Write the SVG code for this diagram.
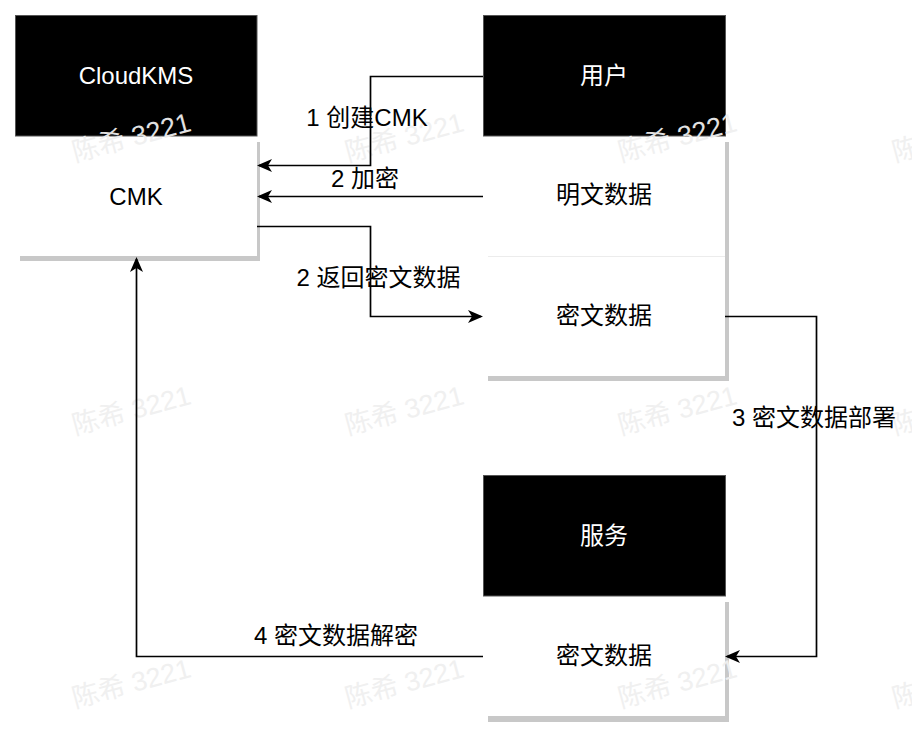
<svg xmlns="http://www.w3.org/2000/svg" width="912" height="740" viewBox="0 0 912 740">
<defs>
<style>
text{font-family:"Liberation Sans","Noto Sans CJK SC",sans-serif;font-size:24px;text-anchor:middle}
.hdr{fill:#000;stroke:#555;stroke-width:1}
.body{fill:#fff}
.shadow{fill:#c8c8c8}
.wt{fill:#fff}
.bt{fill:#000}
.edge{fill:none;stroke:#000;stroke-width:1.7}
.wm{fill:#f0f0f0;opacity:0.94;font-size:27px;text-anchor:start}
</style>
<marker id="arr" markerUnits="userSpaceOnUse" markerWidth="16" markerHeight="14" refX="13" refY="6.5" orient="auto">
<path d="M15,6.5 L0,0 L4,6.5 L0,13 Z" fill="#000"/>
</marker>
</defs>
<rect width="912" height="740" fill="#fff"/>
<g id="cloudkms">
<rect class="shadow" x="20" y="142" width="240" height="119"/>
<rect class="body" x="15" y="136" width="242" height="120"/>
<rect class="hdr" x="15.5" y="15.5" width="241.5" height="120.5"/>
<text class="wt" x="136" y="83.5">CloudKMS</text>
<text class="bt" x="136" y="205">CMK</text>
</g>
<g id="user">
<rect class="shadow" x="488" y="142" width="241" height="239"/>
<rect class="body" x="483" y="136" width="242" height="240"/>
<line x1="488" y1="256.5" x2="725" y2="256.5" stroke="#ececec" stroke-width="1"/>
<rect class="hdr" x="483.5" y="15.5" width="242" height="120.5"/>
<text class="wt" x="604" y="84">用户</text>
<text class="bt" x="604" y="203">明文数据</text>
<text class="bt" x="604" y="324">密文数据</text>
</g>
<g id="service">
<rect class="shadow" x="488" y="602" width="241" height="120"/>
<rect class="body" x="483" y="596" width="242" height="120"/>
<rect class="hdr" x="483.5" y="475.5" width="242" height="120.5"/>
<text class="wt" x="604" y="544">服务</text>
<text class="bt" x="604" y="664">密文数据</text>
</g>
<g id="watermarks">
<text class="wm" transform="translate(75,162) rotate(-15)">陈希 3221</text>
<text class="wm" transform="translate(348,162) rotate(-15)">陈希 3221</text>
<text class="wm" transform="translate(621,162) rotate(-15)">陈希 3221</text>
<text class="wm" transform="translate(895,162) rotate(-15)">陈希 3221</text>
<text class="wm" transform="translate(75,435) rotate(-15)">陈希 3221</text>
<text class="wm" transform="translate(348,435) rotate(-15)">陈希 3221</text>
<text class="wm" transform="translate(621,435) rotate(-15)">陈希 3221</text>
<text class="wm" transform="translate(895,435) rotate(-15)">陈希 3221</text>
<text class="wm" transform="translate(75,708) rotate(-15)">陈希 3221</text>
<text class="wm" transform="translate(348,708) rotate(-15)">陈希 3221</text>
<text class="wm" transform="translate(621,708) rotate(-15)">陈希 3221</text>
<text class="wm" transform="translate(895,708) rotate(-15)">陈希 3221</text>
</g>
<g id="connectors">
<path class="edge" d="M483,76.5 H370.5 V165.5 H259" marker-end="url(#arr)"/>
<path class="edge" d="M483,196.5 H259" marker-end="url(#arr)"/>
<path class="edge" d="M257,226.5 H370.5 V316.5 H481" marker-end="url(#arr)"/>
<path class="edge" d="M725,316.5 H816.5 V656.5 H727" marker-end="url(#arr)"/>
<path class="edge" d="M483,656.5 H136.5 V259" marker-end="url(#arr)"/>
<text class="bt" x="367" y="126">1 创建CMK</text>
<text class="bt" x="365" y="187">2 加密</text>
<text class="bt" x="378.5" y="286">2 返回密文数据</text>
<text class="bt" x="814" y="426">3 密文数据部署</text>
<text class="bt" x="336" y="644">4 密文数据解密</text>
</g>
</svg>
